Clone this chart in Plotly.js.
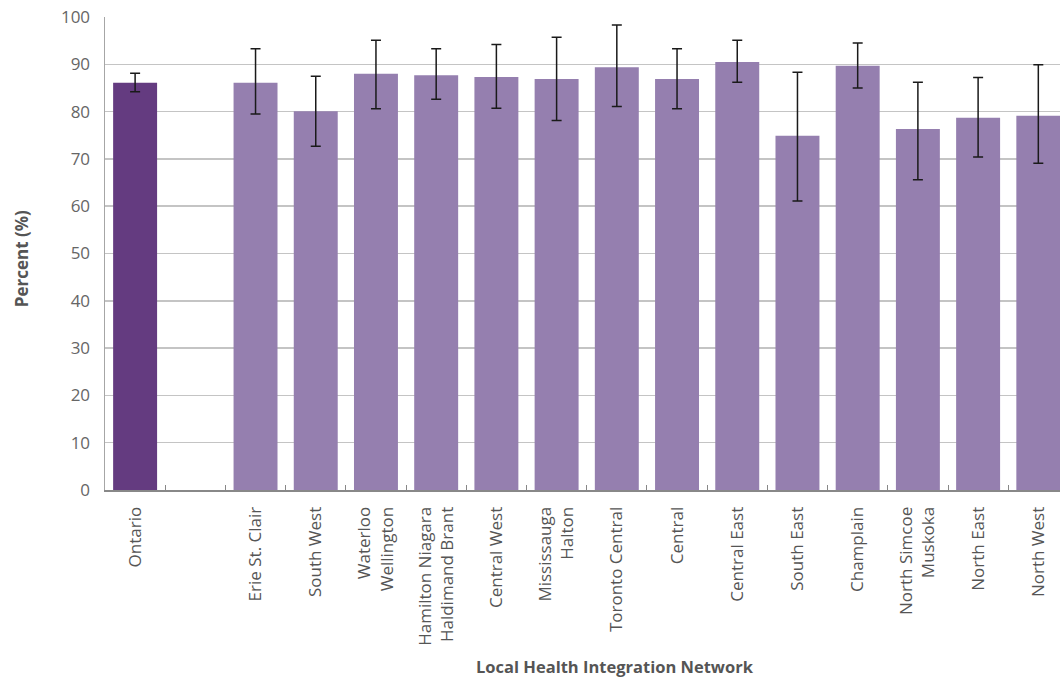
<!DOCTYPE html>
<html>
<head>
<meta charset="utf-8">
<script src="https://cdn.plot.ly/plotly-3.0.1.min.js"></script>
<style>
  html, body { margin: 0; padding: 0; background: #ffffff; }
  #chart { width: 1060px; height: 677px; }
</style>
</head>
<body>
<div id="chart"></div>
<script>
// Regions: province total, an empty spacer slot, then the 14 LHINs
const categories = [
  "Ontario", " ", "Erie St. Clair", "South West", "Waterloo<br>Wellington",
  "Hamilton Niagara<br>Haldimand Brant", "Central West", "Mississauga<br>Halton",
  "Toronto Central", "Central", "Central East", "South East", "Champlain",
  "North Simcoe<br>Muskoka", "North East", "North West"
];

// Percent estimate per region (null = spacer slot)
const percent = [86.1, null, 86.1, 80.1, 88.0, 87.7, 87.3, 86.9, 89.4, 86.9, 90.5, 74.9, 89.7, 76.3, 78.7, 79.1];

// 95% confidence interval bounds
const ciUpper = [88.1, null, 93.3, 87.5, 95.1, 93.3, 94.2, 95.7, 98.3, 93.3, 95.1, 88.3, 94.5, 86.2, 87.2, 89.9];
const ciLower = [84.2, null, 79.5, 72.7, 80.6, 82.6, 80.7, 78.1, 81.1, 80.6, 86.2, 61.1, 85.0, 65.6, 70.4, 69.1];

const yTicks = [0, 10, 20, 30, 40, 50, 60, 70, 80, 90, 100];

const provinceColor = "#643B80";
const regionColor = "#957FAF";

const errPlus = percent.map((v, i) => v === null ? null : +(ciUpper[i] - v).toFixed(2));
const errMinus = percent.map((v, i) => v === null ? null : +(v - ciLower[i]).toFixed(2));
const barColors = categories.map((c, i) => i === 0 ? provinceColor : regionColor);

const trace = {
  type: "bar",
  x: categories,
  y: percent,
  marker: { color: barColors, line: { width: 0 } },
  error_y: {
    type: "data",
    symmetric: false,
    array: errPlus,
    arrayminus: errMinus,
    color: "#1a1a1a",
    thickness: 1.5,
    width: 5
  },
  hoverinfo: "x+y"
};

const fontFamily = "'Open Sans', 'Noto Sans', sans-serif";

const layout = {
  width: 1060,
  height: 677,
  margin: { l: 105, r: 0, t: 17, b: 187 },
  paper_bgcolor: "#ffffff",
  plot_bgcolor: "#ffffff",
  bargap: 0.27,
  showlegend: false,
  font: { family: fontFamily, color: "#555555", size: 17 },
  xaxis: {
    type: "category",
    categoryorder: "array",
    categoryarray: categories,
    range: [-0.5, 15.36],
    tickangle: -90,
    ticks: "inside",
    tickson: "boundaries",
    ticklen: 5,
    tickwidth: 1,
    tickcolor: "#888888",
    showline: true,
    linecolor: "#888888",
    linewidth: 2,
    showgrid: false,
    zeroline: false,
    ticklabelstandoff: 8,
    tickfont: { family: fontFamily, size: 17, color: "#555555" },
    fixedrange: true
  },
  yaxis: {
    range: [0, 100],
    tickvals: yTicks,
    ticktext: yTicks.map(String),
    ticks: "",
    showline: true,
    linecolor: "#a6a6a6",
    linewidth: 1.5,
    showgrid: true,
    gridcolor: "#c4c4c4",
    gridwidth: 1.5,
    zeroline: false,
    ticklabelstandoff: 10,
    tickfont: { family: fontFamily, size: 17, color: "#666666" },
    fixedrange: true
  },
  annotations: [
    {
      text: "<b>Percent (%)</b>",
      xref: "paper", yref: "paper",
      x: -0.088, y: 0.49,
      xanchor: "center", yanchor: "middle",
      textangle: -90,
      showarrow: false,
      font: { family: fontFamily, size: 17, color: "#555555" }
    },
    {
      text: "<b>Local Health Integration Network</b>",
      xref: "paper", yref: "paper",
      x: 0.534, y: -0.374,
      xanchor: "center", yanchor: "middle",
      showarrow: false,
      font: { family: fontFamily, size: 16.5, color: "#555555" }
    }
  ]
};

Plotly.newPlot("chart", [trace], layout, { displayModeBar: false, staticPlot: true });
</script>
</body>
</html>
